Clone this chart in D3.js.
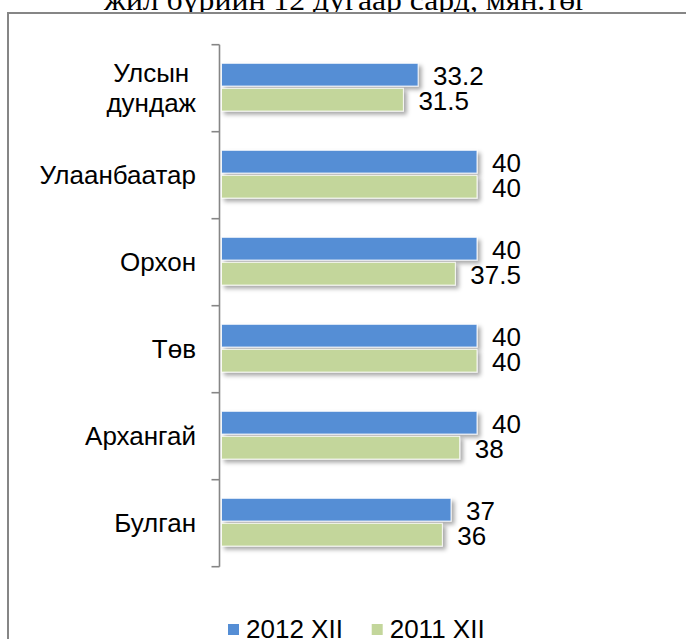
<!DOCTYPE html>
<html>
<head>
<meta charset="utf-8">
<script src="https://cdn.jsdelivr.net/npm/d3@7"></script>
<style>
  html, body { margin: 0; padding: 0; background: #fff; }
  svg { display: block; }
</style>
</head>
<body>
<svg id="chart" width="686" height="639"></svg>
<script>
// ---- data ----
const titleText = "жил бүрийн 12 дугаар сард, мян.төг";
const categories = ["Улсын дундаж", "Улаанбаатар", "Орхон", "Төв", "Архангай", "Булган"];
const categoryLines = [["Улсын", "дундаж"], ["Улаанбаатар"], ["Орхон"], ["Төв"], ["Архангай"], ["Булган"]];
const seriesNames = ["2012 XII", "2011 XII"];
const values2012 = [33.2, 40, 40, 40, 40, 37];
const values2011 = [31.5, 40, 37.5, 40, 38, 36];
const seriesColors = ["#558ED5", "#C3D69B"];

const rows = categories.map((c, i) => ({
  cat: c, lines: categoryLines[i],
  vals: [{s: seriesNames[0], v: values2012[i], k: 0}, {s: seriesNames[1], v: values2011[i], k: 1}]
}));

const svg = d3.select("#chart");
const FONT = "'Liberation Sans', Arial, sans-serif";
const FS = 26;

// shadow filter
const defs = svg.append("defs");
const f = defs.append("filter").attr("id", "shadow").attr("x", "-10%").attr("y", "-30%").attr("width", "130%").attr("height", "180%");
f.append("feDropShadow").attr("dx", 3).attr("dy", 3).attr("stdDeviation", 2.2)
  .attr("flood-color", "#000").attr("flood-opacity", 0.35);

// title (cut off at top)
svg.append("text")
  .attr("x", 346).attr("y", 9.5)
  .attr("text-anchor", "middle")
  .attr("font-family", "'Liberation Serif', 'Times New Roman', serif")
  .attr("font-size", 30)
  .attr("textLength", 484).attr("lengthAdjust", "spacingAndGlyphs")
  .attr("fill", "#000")
  .text(titleText);

// chart frame
svg.append("rect")
  .attr("x", 8).attr("y", 13).attr("width", 700).attr("height", 650)
  .attr("fill", "#fff").attr("stroke", "#868686").attr("stroke-width", 2);

// scales
const y = d3.scaleBand().domain(categories).range([44.7, 566.7]).padding(0);
const yInner = d3.scaleBand().domain(seriesNames)
  .range([18.6, y.bandwidth() - 20.6]).paddingInner(0.09);
const x = d3.scaleLinear().domain([10.5, 40]).range([221.5, 477]);

// axis line with boundary ticks
const axisX = 219.5;
const ag = svg.append("g").attr("stroke", "#868686").attr("stroke-width", 1.6);
ag.append("line").attr("x1", axisX).attr("x2", axisX)
  .attr("y1", y.range()[0]).attr("y2", y.range()[1]);
const tickYs = categories.map(c => y(c)).concat([y.range()[1]]);
ag.selectAll("line.tick").data(tickYs).enter().append("line")
  .attr("class", "tick")
  .attr("x1", axisX - 8).attr("x2", axisX)
  .attr("y1", d => d).attr("y2", d => d);

// bars
const groups = svg.selectAll("g.cat").data(rows).enter().append("g")
  .attr("class", "cat")
  .attr("transform", d => `translate(0,${y(d.cat)})`);

groups.selectAll("rect.bar").data(d => d.vals).enter().append("rect")
  .attr("class", "bar")
  .attr("x", x.range()[0])
  .attr("y", d => yInner(d.s))
  .attr("width", d => x(d.v) - x.range()[0])
  .attr("height", yInner.bandwidth())
  .attr("fill", d => seriesColors[d.k])
  .attr("stroke", "rgba(255,255,255,0.85)")
  .attr("stroke-width", 1)
  .attr("filter", "url(#shadow)");

// value labels
groups.selectAll("text.val").data(d => d.vals).enter().append("text")
  .attr("class", "val")
  .attr("x", d => x(d.v) + 15)
  .attr("y", d => yInner(d.s) + yInner.bandwidth() / 2 + 10.5)
  .attr("font-family", FONT).attr("font-size", FS)
  .attr("fill", "#000")
  .text(d => String(d.v));

// category labels
const labelRight = 196;
groups.each(function(d) {
  const g = d3.select(this);
  const n = d.lines.length;
  const lh = 30;
  const c = y.bandwidth() / 2;
  const t = g.append("g");
  const texts = d.lines.map((ln, j) => t.append("text")
    .attr("y", c - (n - 1) * lh / 2 + j * lh + 9)
    .attr("font-family", FONT).attr("font-size", FS)
    .attr("fill", "#000")
    .attr("text-anchor", "middle")
    .text(ln));
  const maxW = d3.max(texts, tx => tx.node().getComputedTextLength());
  texts.forEach(tx => tx.attr("x", labelRight - maxW / 2));
});

// legend
const legendX = [228, 371.7];
const lg = svg.selectAll("g.leg").data(seriesNames).enter().append("g")
  .attr("class", "leg")
  .attr("transform", (d, i) => `translate(${legendX[i]},624)`);
lg.append("rect").attr("width", 11).attr("height", 11)
  .attr("fill", (d, i) => seriesColors[i]);
lg.append("text").attr("x", 18).attr("y", 14)
  .attr("font-family", FONT).attr("font-size", FS).attr("fill", "#000")
  .text(d => d);
</script>
</body>
</html>
